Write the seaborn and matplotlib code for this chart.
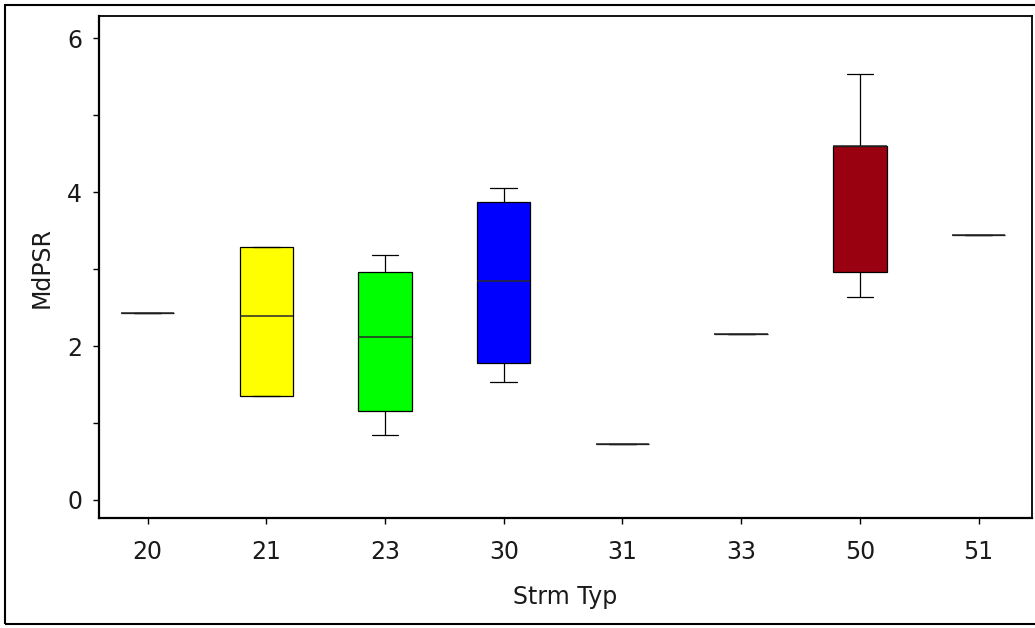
import numpy as np
import pandas as pd
import matplotlib
matplotlib.use("Agg")
import matplotlib.pyplot as plt
from matplotlib.ticker import MultipleLocator
from matplotlib.patches import Rectangle
import seaborn as sns

# Stream types and MdPSR observations per type
strm_typ = ["20", "21", "23", "30", "31", "33", "50", "51"]
mdpsr_20 = [2.43]
mdpsr_21 = [1.35, 1.35, 2.39, 3.29, 3.29]
mdpsr_23 = [0.84, 1.16, 2.12, 2.96, 3.18]
mdpsr_30 = [1.53, 1.78, 2.84, 3.87, 4.05]
mdpsr_31 = [0.73]
mdpsr_33 = [2.16]
mdpsr_50 = [2.64, 2.96, 4.60, 4.60, 5.53]
mdpsr_51 = [3.44]
box_colors = ["#ffffff", "#ffff00", "#00ff00", "#0000ff",
              "#ffffff", "#ffffff", "#990010", "#ffffff"]

groups = [mdpsr_20, mdpsr_21, mdpsr_23, mdpsr_30,
          mdpsr_31, mdpsr_33, mdpsr_50, mdpsr_51]
df = pd.DataFrame({
    "Strm Typ": [t for t, g in zip(strm_typ, groups) for _ in g],
    "MdPSR": [v for g in groups for v in g],
})

sns.set_style("ticks")
plt.rcParams["font.family"] = ["DejaVu Sans"]

fig = plt.figure(figsize=(10.35, 6.28), dpi=100)
ax = fig.add_axes([99 / 1035, 1 - 518 / 628, (1032 - 99) / 1035, (518 - 16) / 628])

sns.boxplot(
    data=df, x="Strm Typ", y="MdPSR", hue="Strm Typ",
    order=strm_typ, hue_order=strm_typ,
    palette=dict(zip(strm_typ, box_colors)), legend=False,
    width=0.45, saturation=1, whis=(0, 100), fliersize=0,
    linecolor="black", linewidth=0.9,
    medianprops={"color": "#2a2a2a", "linewidth": 1.1},
    ax=ax,
)

ax.set_xlim(-0.41, 7.45)
ax.set_ylim(-0.234, 6.29)
ax.yaxis.set_major_locator(MultipleLocator(2))
ax.yaxis.set_minor_locator(MultipleLocator(1))

for side in ["left", "bottom"]:
    ax.spines[side].set_linewidth(1.6)
for side in ["top", "right"]:
    ax.spines[side].set_linewidth(1.3)
for sp in ax.spines.values():
    sp.set_color("black")

ax.tick_params(axis="both", which="both", length=4, width=1.0,
               color="black", labelsize=17, labelcolor="#1a1a1a")
ax.tick_params(axis="y", which="both", pad=8)
ax.tick_params(axis="x", pad=12)

ax.set_xlabel("Strm Typ", fontsize=17, color="#1a1a1a", labelpad=15)
ax.set_ylabel("MdPSR", fontsize=17, color="#1a1a1a", labelpad=10)

# Outer frame around the whole graphic
fig.patches.append(Rectangle((5 / 1035, 4 / 628), 1.0, 619 / 628,
                             transform=fig.transFigure, fill=False,
                             edgecolor="black", linewidth=1.5))

fig.savefig("out.png", dpi=100, facecolor="white")
